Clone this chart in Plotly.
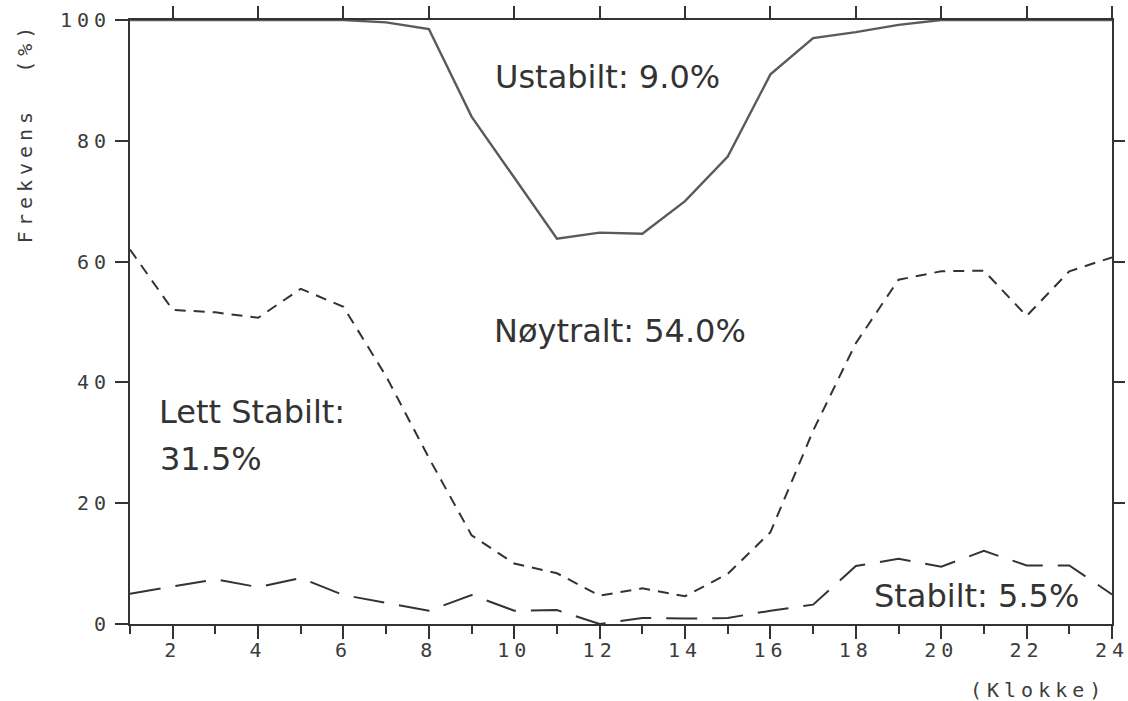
import plotly.graph_objects as go

# Hour of day (Klokke)
hours = list(range(1, 25))

# Cumulative frequency (%) per hour, stacked from the most stable class upward
stabilt_cum = [5.0, 6.2, 7.4, 6.1, 7.6, 4.8, 3.5, 2.2, 4.8, 2.2, 2.3, 0.0,
               1.0, 0.9, 1.0, 2.2, 3.2, 9.6, 10.8, 9.5, 12.1, 9.7, 9.7, 4.9]
lett_stabilt_cum = [62.0, 52.0, 51.6, 50.7, 55.5, 52.5, 41.0, 27.5, 14.7, 10.0, 8.4, 4.7,
                    5.9, 4.6, 8.3, 15.2, 32.0, 46.5, 57.0, 58.4, 58.5, 51.0, 58.4, 60.7]
noytralt_cum = [100, 100, 100, 100, 100, 100, 99.6, 98.5, 84.0, 74.0, 63.8, 64.8,
                64.6, 70.0, 77.4, 91.0, 97.0, 98.0, 99.2, 100, 100, 100, 100, 100]

# Class labels with their mean share
class_labels = ["Ustabilt: 9.0%", "Nøytralt: 54.0%", "Lett Stabilt:", "31.5%", "Stabilt: 5.5%"]
label_x = [9.51, 9.48, 1.64, 1.66, 18.39]
label_y = [90.6, 48.5, 35.1, 27.3, 4.6]

x_ticks = list(range(2, 25, 2))
x_minor = list(range(1, 25, 2))
y_ticks = [0, 20, 40, 60, 80, 100]
y_right_ticks = [20, 40, 60, 80]

INK = "#333333"
MONO = "DejaVu Sans Mono"
SANS = "DejaVu Sans"

fig = go.Figure()

fig.add_trace(go.Scatter(
    x=hours, y=noytralt_cum, mode="lines",
    line=dict(color="#5a5a5a", width=2.4), hoverinfo="skip", showlegend=False))
fig.add_trace(go.Scatter(
    x=hours, y=lett_stabilt_cum, mode="lines",
    line=dict(color=INK, width=2.0, dash="11px,8px"), hoverinfo="skip", showlegend=False))
fig.add_trace(go.Scatter(
    x=hours, y=stabilt_cum, mode="lines",
    line=dict(color=INK, width=2.0, dash="31px,15px"), hoverinfo="skip", showlegend=False))
# carrier for the top and right tick axes
fig.add_trace(go.Scatter(
    x=[1, 24], y=[None, None], xaxis="x2", yaxis="y2", mode="lines",
    hoverinfo="skip", showlegend=False))

tickfont = dict(family=MONO, size=20, color="#3c3c3c")

fig.update_layout(
    template="none",
    width=1128, height=701,
    margin=dict(l=130, r=16, t=20, b=77, autoexpand=False),
    paper_bgcolor="white", plot_bgcolor="white",
    xaxis=dict(
        range=[1, 24], tickmode="array", tickvals=x_ticks, automargin=False,
        ticks="outside", ticklen=13, tickwidth=1.5, tickcolor=INK,
        ticklabelstandoff=-6,
        showline=True, linecolor=INK, linewidth=1.8, mirror=True,
        showgrid=False, zeroline=False, tickfont=tickfont,
        minor=dict(tickvals=x_minor, ticks="outside", ticklen=8,
                   tickwidth=1.5, tickcolor=INK, showgrid=False),
    ),
    yaxis=dict(
        range=[0, 100], tickmode="array", tickvals=y_ticks, automargin=False,
        ticks="outside", ticklen=13, tickwidth=1.5, tickcolor=INK,
        showline=True, linecolor=INK, linewidth=1.8, mirror=True,
        showgrid=False, zeroline=False, tickfont=tickfont,
    ),
    xaxis2=dict(
        overlaying="x", side="top", range=[1, 24], tickmode="array",
        tickvals=x_ticks, ticks="outside", ticklen=13, tickwidth=1.5,
        tickcolor=INK, showticklabels=False, showline=False, automargin=False,
        showgrid=False, zeroline=False,
    ),
    yaxis2=dict(
        overlaying="y", side="right", range=[0, 100], tickmode="array",
        tickvals=y_right_ticks, ticks="outside", ticklen=12, tickwidth=1.5,
        tickcolor=INK, showticklabels=False, showline=False, automargin=False,
        showgrid=False, zeroline=False,
    ),
)

for text, x, y in zip(class_labels, label_x, label_y):
    fig.add_annotation(
        x=x, y=y, xref="x", yref="y", text=text, showarrow=False,
        xanchor="left", yanchor="middle",
        font=dict(family=SANS, size=32, color=INK))

# axis titles
fig.add_annotation(
    x=-0.107, y=0.815, xref="paper", yref="paper", text="Frekvens  (%)",
    textangle=-90, showarrow=False, xanchor="center", yanchor="middle",
    font=dict(family=MONO, size=20, color="#3c3c3c"))
fig.add_annotation(
    x=0.925, y=-0.109, xref="paper", yref="paper", text="(Klokke)",
    showarrow=False, xanchor="center", yanchor="middle",
    font=dict(family=MONO, size=20, color="#3c3c3c"))

# wide plotter-style spacing for the axis lettering
spacing_css = (
    ".xtick text, .ytick text { letter-spacing: 5px; } "
    ".annotation[data-index='5'] text { letter-spacing: 5px; } "
    ".annotation[data-index='6'] text { letter-spacing: 5px; }"
)
post = (
    "var s=document.createElement('style');"
    "s.textContent=\"" + spacing_css + "\";"
    "document.head.appendChild(s);"
)

fig.write_html("out.html", post_script=post)
